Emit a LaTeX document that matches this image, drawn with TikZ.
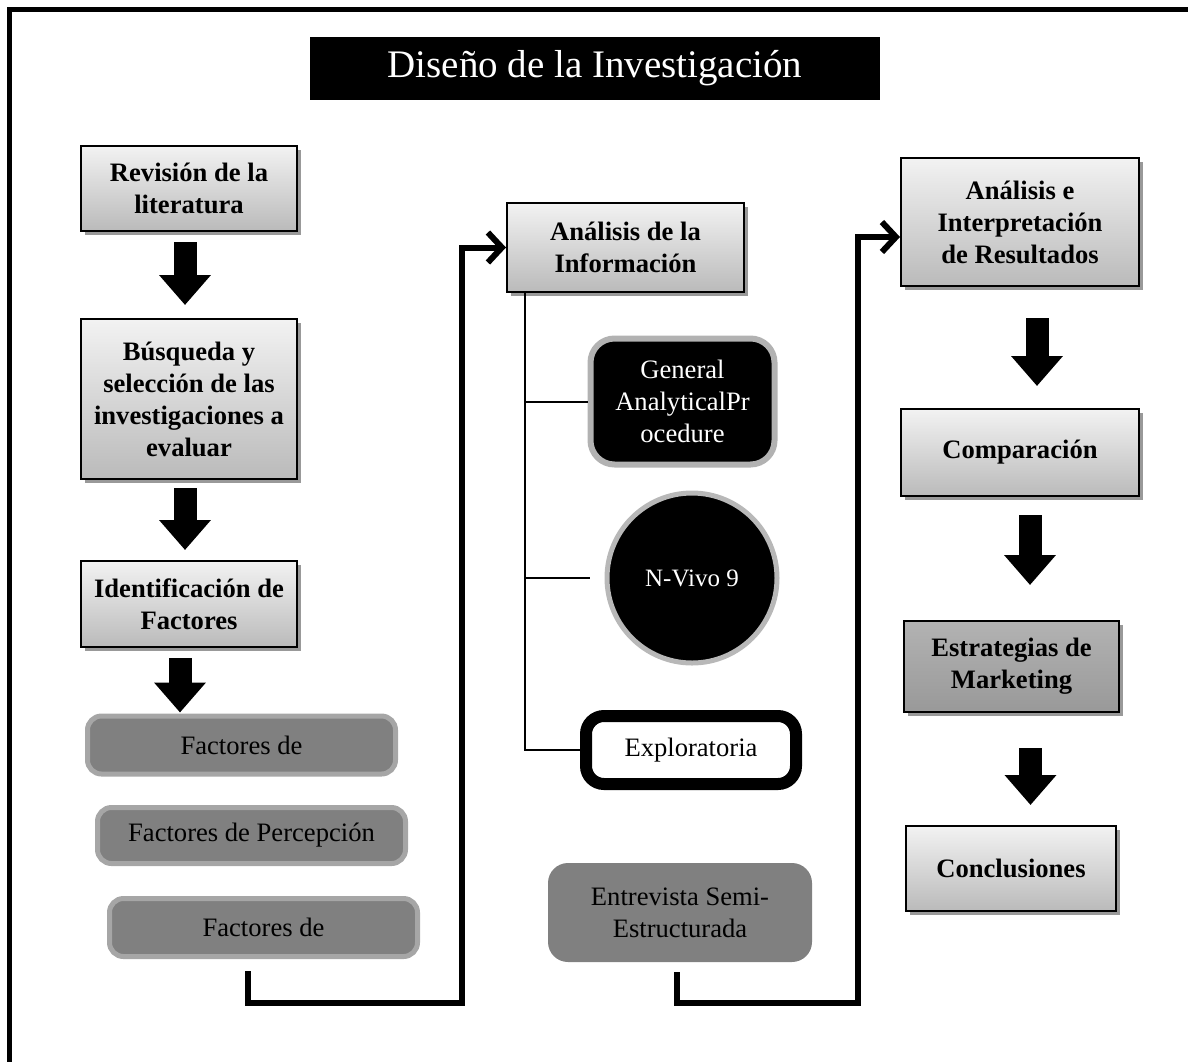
\documentclass[tikz,border=0pt]{standalone}
\usepackage{fontspec}
\setmainfont{Liberation Serif}
\usetikzlibrary{arrows.meta,shadows,calc}

\begin{document}
\begin{tikzpicture}[x=0.5pt,y=-0.5pt,
        every node/.style={font=\fontsize{13.3}{16}\selectfont, align=center, inner sep=2pt},
        paso/.style={draw=black, line width=1pt, top color=black!5, bottom color=black!27,
            font=\fontsize{13.3}{16}\selectfont\bfseries,
            drop shadow={shadow xshift=2pt, shadow yshift=-2pt, fill=black!40, opacity=1}},
        factor/.style={draw=black!35, line width=2.5pt, fill=black!50, rounded corners=7pt,
            minimum width=154pt, minimum height=29pt},
        blk/.style={line width=11.5pt, -{Triangle[width=25pt,length=15pt]}},
        link/.style={line width=3pt, -{Straight Barb[length=7pt,width=15pt]}},
        rama/.style={line width=1pt}]
                \useasboundingbox (0,0) rectangle (1188,1061);
                \draw[line width=2.5pt] (1200,9.5) -| (9.5,1075);
                \node[fill=black, text=white, minimum width=285pt, minimum height=31.5pt,
                    font=\fontsize{19.5}{22}\selectfont] (tit) at (595,68.5) {Diseño de la Investigación};

                \node[paso, minimum width=108pt, minimum height=42.5pt] (rev) at (189,188.5) {Revisión de la\\literatura};
                \node[paso, minimum width=108pt, minimum height=80pt] (bus) at (189,399) {Búsqueda y\\selección de las\\investigaciones a\\evaluar};
                \node[paso, minimum width=108pt, minimum height=43pt] (ide) at (189,604) {Identificación de\\Factores};
                \node[factor] (f1) at (241.5,745) {Factores de};
                \node[factor, minimum height=28pt] (f2) at (251.5,835.5) {Factores de Percepción};
                \node[factor] (f3) at (263.5,927.5) {Factores de};

                \node[paso, minimum width=118.5pt, minimum height=44.5pt] (ana) at (625.5,247.5) {Análisis de la\\Información};
                \node[draw=black!30, line width=3pt, fill=black, text=white, rounded corners=12pt,
                    minimum width=92pt, minimum height=63pt] (gap) at (682.5,401.5) {General\\AnalyticalPr\\ocedure};
                \node[circle, draw=black!28, line width=2.5pt, fill=black, text=white, minimum size=85pt,
                    font=\fontsize{12.5}{15}\selectfont] (nv) at (692,578) {N-Vivo 9};
                \node[draw=black, line width=6pt, fill=white, rounded corners=9pt,
                    minimum width=105pt, minimum height=34pt] (exp) at (691,750) {Exploratoria};
                \node[fill=black!50, rounded corners=10pt, minimum width=132pt, minimum height=49.5pt] (ent) at (680,912.5) {Entrevista Semi-\\Estructurada};

                \node[paso, minimum width=119pt, minimum height=64pt] (res) at (1020,222) {Análisis e\\Interpretación\\de Resultados};
                \node[paso, minimum width=119pt, minimum height=43.5pt] (com) at (1020,452.5) {Comparación};
                \node[paso, top color=black!30, bottom color=black!40, minimum width=107.5pt,
                    minimum height=45.5pt] (est) at (1011.5,666.5) {Estrategias de\\Marketing};
                \node[paso, minimum width=105pt, minimum height=42.5pt] (con) at (1011,868.5) {Conclusiones};

                \draw[blk] ($(rev.south)+(-4,10)$) -- ($(bus.north)+(-4,-13)$);
                \draw[blk] ($(bus.south)+(-4,8)$) -- ($(ide.north)+(-4,-10)$);
                \draw[blk] ($(ide.south)+(-9,10)$) -- ($(ide.south |- f1.north)+(-9,-1)$);
                \draw[blk] ($(res.south)+(17,31)$) -- ($(res.south |- com.north)+(17,-22)$);
                \draw[blk] ($(com.south)+(10,18)$) -- ($(com.south |- est.north)+(10,-35)$);
                \draw[blk] ($(est.south)+(19,35)$) -- ($(est.south |- con.north)+(19,-20)$);

                \coordinate (t) at ($(ana.south west)+(19,0)$);
                \draw[rama] (t) |- (exp.west);
                \draw[rama] (gap.west -| t) -- (gap.west);
                \draw[rama] (nv.west -| t) -- ($(nv.west)+(-15,0)$);

                \coordinate (c1) at (462,1003);
                \coordinate (c2) at (858,1003);
                \draw[link] ($(f3.south)+(-16,12)$) |- (c1) |- (ana.west);
                \draw[link] ($(ent.south)+(-3,10)$) |- (c2) |- ($(res.west)+(0,15)$);
            \end{tikzpicture}
\end{document}
